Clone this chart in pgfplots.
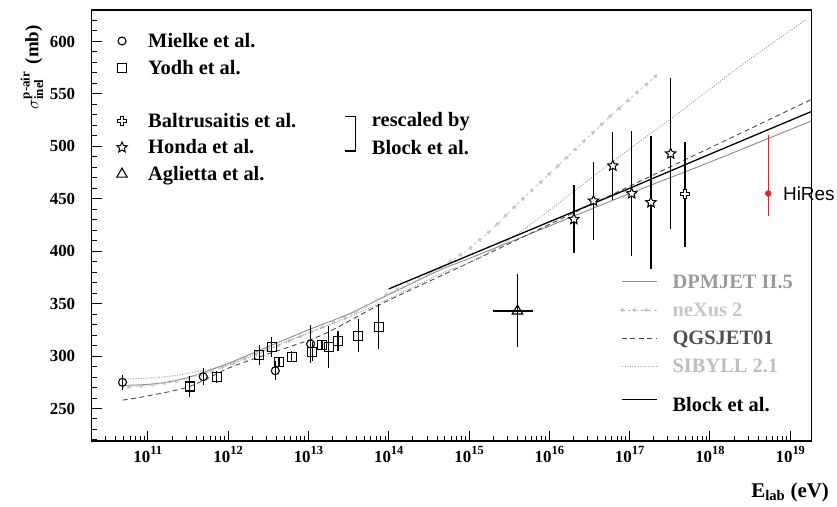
\documentclass[border=0pt]{standalone}
\usepackage{pgfplots}
\pgfplotsset{compat=1.18}
\usepackage{pgfplotstable}
\usepackage{fontspec}
\setmainfont{Liberation Serif}
\newfontfamily\arialfont{Liberation Sans}
\usetikzlibrary{decorations.markings,plotmarks}

\definecolor{dpmcol}{HTML}{8A8A8A}
\definecolor{nexcol}{HTML}{BDBDBD}
\definecolor{qgscol}{HTML}{4A4A4A}
\definecolor{sibcol}{HTML}{9C9C9C}
\definecolor{dpmtxt}{HTML}{9A9A9A}
\definecolor{nextxt}{HTML}{C6C6C6}
\definecolor{qgstxt}{HTML}{505050}
\definecolor{sibtxt}{HTML}{BEBEBE}
\definecolor{hiresred}{HTML}{E8202A}

\pgfdeclareplotmark{hcross}{%
  \pgfpathmoveto{\pgfpoint{-0.35\pgfplotmarksize}{\pgfplotmarksize}}%
  \pgfpathlineto{\pgfpoint{0.35\pgfplotmarksize}{\pgfplotmarksize}}%
  \pgfpathlineto{\pgfpoint{0.35\pgfplotmarksize}{0.35\pgfplotmarksize}}%
  \pgfpathlineto{\pgfpoint{\pgfplotmarksize}{0.35\pgfplotmarksize}}%
  \pgfpathlineto{\pgfpoint{\pgfplotmarksize}{-0.35\pgfplotmarksize}}%
  \pgfpathlineto{\pgfpoint{0.35\pgfplotmarksize}{-0.35\pgfplotmarksize}}%
  \pgfpathlineto{\pgfpoint{0.35\pgfplotmarksize}{-\pgfplotmarksize}}%
  \pgfpathlineto{\pgfpoint{-0.35\pgfplotmarksize}{-\pgfplotmarksize}}%
  \pgfpathlineto{\pgfpoint{-0.35\pgfplotmarksize}{-0.35\pgfplotmarksize}}%
  \pgfpathlineto{\pgfpoint{-\pgfplotmarksize}{-0.35\pgfplotmarksize}}%
  \pgfpathlineto{\pgfpoint{-\pgfplotmarksize}{0.35\pgfplotmarksize}}%
  \pgfpathlineto{\pgfpoint{-0.35\pgfplotmarksize}{0.35\pgfplotmarksize}}%
  \pgfpathclose
  \pgfusepathqfillstroke
}
\pgfdeclareplotmark{ostar}{%
  \pgfpathmoveto{\pgfpointpolar{90}{\pgfplotmarksize}}%
  \pgfpathlineto{\pgfpointpolar{126}{0.45\pgfplotmarksize}}%
  \pgfpathlineto{\pgfpointpolar{162}{\pgfplotmarksize}}%
  \pgfpathlineto{\pgfpointpolar{198}{0.45\pgfplotmarksize}}%
  \pgfpathlineto{\pgfpointpolar{234}{\pgfplotmarksize}}%
  \pgfpathlineto{\pgfpointpolar{270}{0.45\pgfplotmarksize}}%
  \pgfpathlineto{\pgfpointpolar{306}{\pgfplotmarksize}}%
  \pgfpathlineto{\pgfpointpolar{342}{0.45\pgfplotmarksize}}%
  \pgfpathlineto{\pgfpointpolar{18}{\pgfplotmarksize}}%
  \pgfpathlineto{\pgfpointpolar{54}{0.45\pgfplotmarksize}}%
  \pgfpathclose
  \pgfusepathqfillstroke
}

\pgfplotsset{longlegend/.style={legend image code/.code={\draw[##1] (0bp,0bp) -- (35bp,0bp);}}}

\newcommand{\tl}[1]{10\raisebox{7.5bp}{\fontsize{12.5}{13}\selectfont#1}}
\newcommand{\LS}{\rule[-5bp]{0pt}{19bp}}

% data: x = E_lab (eV), y = sigma (mb), e = error
\pgfplotstableread{
x y e
4.84e10 275 7
4.9e11 280.3 8
3.87e12 286 9
1.064e13 311.5 18
}\mielke
\pgfplotstableread{
x y e
3.31e11 271 10
7.18e11 280 6
2.44e12 301 9.5
3.48e12 308.5 9.5
4.30e12 294.5 5
6.17e12 299.5 5
1.12e13 304 9
1.47e13 310.5 5
1.79e13 309 20
2.33e13 314.5 9.5
4.17e13 319.5 15.5
7.50e13 328 21.5
}\yodh
\pgfplotstableread{
x y e
2.02e16 430.5 32.5
3.55e16 448 37.5
6.17e16 481.5 32.5
1.06e17 455 60
1.84e17 446.5 63.6
3.24e17 493 72
}\honda
\pgfplotstableread{
x y e
4.90e17 454.4 50
}\baltr
% models
\pgfplotstableread{
x y
4.84e10 272
1e11 273
2e11 276
4e11 282
1e12 293
3.16e12 309
1e13 325
3.16e13 340
8.5e13 356
4.32e14 382
1e15 393
1e16 424
1e17 455
1e18 485
1.81e19 524
}\dpmjet
\pgfplotstableread{
x y
4.84e10 270
1e11 272
2e11 275
4e11 281
1e12 291
3.16e12 306
1e13 322
3.16e13 338
1e14 360
2.5e14 374
5.25e14 388
1e15 402
2e15 422
4e15 445
1.48e16 486
6.17e16 531
2.19e17 568
}\nexus
\pgfplotstableread{
x y
4.84e10 258
1e11 262
3.31e11 271
1.05e12 289
3.16e12 302
1e13 315
1.84e13 323.5
7.71e13 349
4.32e14 376
1e15 389
1e16 425.5
1e17 462
1e18 498.5
1.81e19 544.5
}\qgsjet
\pgfplotstableread{
x y
4.84e10 278
1e11 279
2e11 281
4e11 285
1e12 292
3.16e12 307
1e13 322
3.16e13 337
8.5e13 352
4.32e14 378
1e15 389
2.4e15 405
7.6e15 432
6.17e16 485.5
4.27e17 533
2.88e18 581
1.58e19 621
}\sibyll
\pgfplotstableread{
x y
1e14 364
1e15 396
1e16 428
1e17 460
1e18 492.5
1.81e19 533
}\block

\begin{document}
\begin{tikzpicture}
\path[use as bounding box] (0,0) rectangle (837bp,507bp);

% ---------- model curves ----------
\begin{axis}[
  scale only axis, width=720bp, height=431bp,
  at={(91.7bp,66bp)}, anchor=south west,
  xmode=log, log basis x=10,
  xmin=2e10, xmax=1.85e19, ymin=219, ymax=630,
  clip=false, hide axis, longlegend,
  legend style={draw=none, fill=none, inner sep=0pt, row sep=10.6bp, column sep=14bp,
    at={(axis description cs:0.734,0.390)}, anchor=north west,
    font=\bfseries\fontsize{20.5}{22}\selectfont, nodes={inner sep=1bp}},
  legend cell align=left,
]
\addplot[dpmcol, line width=0.9bp, smooth, tension=0.5] table[x=x,y=y]{\dpmjet};
\addlegendentry{\LS\textcolor{dpmtxt}{DPMJET II.5}}
\addplot[nexcol, line width=0.7bp, dash pattern=on 3bp off 3.5bp,
  postaction={decorate},
  decoration={markings, mark=between positions 0.01 and 1 step 12bp with {%
    \pgfsetdash{}{0pt}\pgfsetlinewidth{0.6bp}\pgfsetplotmarksize{2.2bp}\pgfuseplotmark{asterisk}}}]
  table[x=x,y=y]{\nexus};
\addlegendentry{\LS\textcolor{nextxt}{neXus 2}}
\addplot[qgscol, line width=0.9bp, smooth, tension=0.5, dash pattern=on 5bp off 3.5bp] table[x=x,y=y]{\qgsjet};
\addlegendentry{\LS\textcolor{qgstxt}{QGSJET01}}
\addplot[sibcol, line width=1bp, smooth, tension=0.5, dash pattern=on 1bp off 1.6bp] table[x=x,y=y]{\sibyll};
\addlegendentry{\LS\textcolor{sibtxt}{SIBYLL 2.1}}
\addplot[black, line width=1.3bp] table[x=x,y=y]{\block};
\addlegendentry{\rule[-5bp]{0pt}{30bp}Block et al.}
\end{axis}

% ---------- data + frame ----------
\begin{axis}[
  scale only axis, width=720bp, height=431bp,
  at={(91.7bp,66bp)}, anchor=south west,
  xmode=log, log basis x=10,
  xmin=2e10, xmax=1.85e19, ymin=219, ymax=630,
  clip=false,
  axis line style={line width=1.2bp},
  tick align=inside, xtick pos=lower, ytick pos=left,
  major tick length=10bp, minor tick length=5bp,
  every tick/.style={black, line width=1bp},
  xtick={1e11,1e12,1e13,1e14,1e15,1e16,1e17,1e18,1e19},
  xticklabels={\tl{11},\tl{12},\tl{13},\tl{14},\tl{15},\tl{16},\tl{17},\tl{18},\tl{19}},
  minor xtick={3e10,4e10,5e10,6e10,7e10,8e10,9e10,
    2e11,3e11,4e11,5e11,6e11,7e11,8e11,9e11,
    2e12,3e12,4e12,5e12,6e12,7e12,8e12,9e12,
    2e13,3e13,4e13,5e13,6e13,7e13,8e13,9e13,
    2e14,3e14,4e14,5e14,6e14,7e14,8e14,9e14,
    2e15,3e15,4e15,5e15,6e15,7e15,8e15,9e15,
    2e16,3e16,4e16,5e16,6e16,7e16,8e16,9e16,
    2e17,3e17,4e17,5e17,6e17,7e17,8e17,9e17,
    2e18,3e18,4e18,5e18,6e18,7e18,8e18,9e18},
  ytick={250,300,350,400,450,500,550,600},
  yticklabels={250,300,350,400,450,500,550,600},
  minor ytick={220,230,240,260,270,280,290,310,320,330,340,360,370,380,390,410,420,430,440,460,470,480,490,510,520,530,540,560,570,580,590,610,620},
  ticklabel style={font=\bfseries\fontsize{17}{18}\selectfont},
  yticklabel style={xshift=-13bp},
  xticklabel style={yshift=-2bp},
  xlabel={\textbf{E\textsubscript{lab} (eV)}},
  xlabel style={at={(axis description cs:0.97,-0.12)}, anchor=center, font=\fontsize{21}{22}\selectfont},
  ylabel={$\sigma^{\mbox{\fontsize{13}{13}\selectfont\bfseries p-air}}_{\mbox{\fontsize{13}{13}\selectfont\bfseries inel}}$\hspace{7bp}\textbf{(mb)}},
  ylabel style={at={(axis description cs:-0.083,0.867)}, anchor=center, font=\fontsize{19}{20}\selectfont},
  legend style={draw=none, fill=none, inner sep=0pt, row sep=9bp, column sep=20bp,
    at={(axis description cs:0.030,0.949)}, anchor=north west,
    font=\bfseries\fontsize{20.5}{22}\selectfont, nodes={inner sep=1bp}},
  legend cell align=left,
]
\addplot[only marks, mark=o, mark size=4bp, mark options={black, fill=white, line width=1.1bp},
  error bars/.cd, y dir=both, y explicit, error mark=none,
  error bar style={black, line width=1.3bp}] table[x=x,y=y,y error=e]{\mielke};
\addlegendentry{\LS Mielke et al.}
\addplot[only marks, mark=square, mark size=4.5bp, mark options={black, fill=white, line width=1.1bp},
  error bars/.cd, y dir=both, y explicit, error mark=none,
  error bar style={black, line width=1.3bp}] table[x=x,y=y,y error=e]{\yodh};
\addlegendentry{\LS Yodh et al.}
\addlegendimage{empty legend}
\addlegendentry{\rule{0pt}{14bp}}
\addplot[only marks, mark=hcross, mark size=4.5bp, mark options={black, fill=white, line width=1bp},
  error bars/.cd, y dir=both, y explicit, error mark=none,
  error bar style={black, line width=1.3bp}] table[x=x,y=y,y error=e]{\baltr};
\addlegendentry{\LS Baltrusaitis et al.}
\addplot[only marks, mark=ostar, mark size=5.5bp, mark options={black, fill=white, line width=1bp},
  error bars/.cd, y dir=both, y explicit, error mark=none,
  error bar style={black, line width=1.3bp}] table[x=x,y=y,y error=e]{\honda};
\addlegendentry{\LS Honda et al.}
\addplot[only marks, mark=triangle, mark size=6bp, mark options={black, fill=white, line width=1.1bp},
  error bars/.cd, x dir=both, y dir=both, x explicit, y explicit, error mark=none,
  error bar style={black, line width=1.3bp}]
  coordinates {(4.01e15,343) += (2.16e15,35) -= (2.01e15,34)};
\addlegendentry{\LS Aglietta et al.}
\addplot[forget plot, only marks, mark=*, mark size=3bp, color=hiresred,
  error bars/.cd, y dir=both, y explicit, error mark=none,
  error bar style={hiresred, line width=1.5bp}]
  coordinates {(5.32e18,455) += (0,56) -= (0,21)};
% annotations
\draw[line width=1.2bp] (axis description cs:0.352,0.752) -- (axis description cs:0.366,0.752)
  -- (axis description cs:0.366,0.673) -- (axis description cs:0.352,0.673);
\node[anchor=west, font=\bfseries\fontsize{20.5}{22}\selectfont, inner sep=0pt]
  at (axis description cs:0.389,0.742) {rescaled by};
\node[anchor=west, font=\bfseries\fontsize{20.5}{22}\selectfont, inner sep=0pt]
  at (axis description cs:0.389,0.680) {Block et al.};
\node[anchor=west, font=\arialfont\fontsize{19}{20}\selectfont, inner sep=0pt]
  at (axis description cs:0.960,0.573) {HiRes};
\end{axis}
\end{tikzpicture}
\end{document}
